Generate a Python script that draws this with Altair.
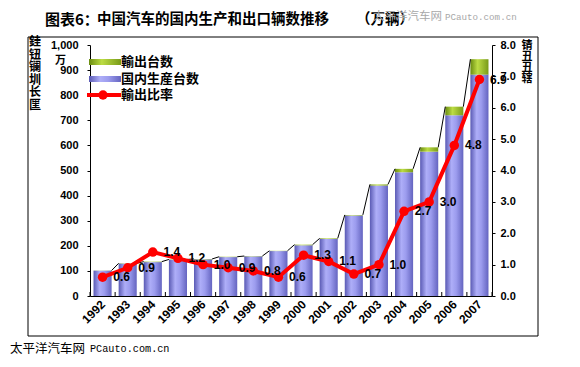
import altair as alt
import pandas as pd

years = ["1992", "1993", "1994", "1995", "1996", "1997", "1998", "1999",
         "2000", "2001", "2002", "2003", "2004", "2005", "2006", "2007"]
domestic = [101, 129, 135, 144, 146, 155, 158, 179, 202, 227, 321, 440, 493, 575, 720, 882]
export = [0.6, 1.2, 1.9, 1.7, 1.5, 1.4, 1.3, 1.0, 2.6, 2.6, 2.2, 4.5, 13.6, 17.3, 34.3, 61.4]
ratio = [0.6, 0.9, 1.4, 1.2, 1.0, 0.9, 0.8, 0.6, 1.3, 1.1, 0.7, 1.0, 2.7, 3.0, 4.8, 6.9]

left_ticks = [0, 100, 200, 300, 400, 500, 600, 700, 800, 900, 1000]
right_ticks = [0, 1, 2, 3, 4, 5, 6, 7, 8]

title_a = "图表6："
title_b = "中国汽车的国内生产和出口辆数推移"
title_c = "（万辆）"
wm_cn = "太平洋汽车网"
wm_en = "PCauto.com.cn"
unit = "万"
left_title = "銈\n钮\n镧\n圳\n长\n匩"
right_title = "锖\n丑\n丑\n辖"
legend_labels = ["輸出台数", "国内生産台数", "輸出比率"]

CJK = "Noto Sans CJK SC"
NUM = "Liberation Sans"
MONO = "Liberation Mono"

df = pd.DataFrame({"year": years, "idx": list(range(len(years))),
                   "domestic": domestic, "export": export, "ratio": ratio})
df["total"] = df["domestic"] + df["export"]
df["base"] = 0
half = 0.36
df["xl"] = df["idx"] - half
df["xr"] = df["idx"] + half

seg = pd.DataFrame({"xl": df["xr"].values[:-1], "xr": df["xl"].values[1:],
                    "domestic": df["total"].values[:-1], "total": df["total"].values[1:]})
bounds = pd.DataFrame({"xl": [i - 0.5 for i in range(len(years) + 1)]})
one = pd.DataFrame({"k": [0]})

xscale = alt.Scale(domain=[-0.5, len(years) - 0.5], nice=False, zero=False)
yscale = alt.Scale(domain=[0, 1000], nice=False)
rscale = alt.Scale(domain=[0, 8], nice=False)

label_arr = "[" + ",".join("'%s'" % y for y in years) + "]"

xaxis = alt.Axis(
    values=list(range(len(years))), labelExpr=label_arr + "[datum.value]",
    ticks=False, grid=False, labelAngle=-45, labelAlign="right",
    labelBaseline="middle", labelPadding=6, labelFont=NUM, labelFontSize=12,
    labelFontWeight="bold", labelColor="black", domainColor="black",
    labelOverlap=False, labelBound=False, title=None)
yaxis = alt.Axis(
    values=left_ticks, format=",.0f", grid=False, tickSize=3, tickColor="black",
    domainColor="black", labelPadding=9, labelFont=NUM, labelFontSize=11,
    labelFontWeight="bold", labelColor="black", labelOverlap=False, title=None)
raxis = alt.Axis(
    orient="right", values=right_ticks, format=".1f", grid=False, tickSize=3,
    tickColor="black", domainColor="black", labelPadding=5, labelFont=NUM,
    labelFontSize=11, labelFontWeight="bold", labelColor="black",
    labelOverlap=False, title=None)

blue_grad = alt.Gradient(gradient="linear", x1=0, x2=1, y1=0, y2=0, stops=[
    alt.GradientStop(offset=0, color="#5A5AB4"),
    alt.GradientStop(offset=0.35, color="#AEAEF8"),
    alt.GradientStop(offset=0.6, color="#9C9CEE"),
    alt.GradientStop(offset=1, color="#6464C0")])
green_grad = alt.Gradient(gradient="linear", x1=0, x2=1, y1=0, y2=0, stops=[
    alt.GradientStop(offset=0, color="#6A8C10"),
    alt.GradientStop(offset=0.4, color="#BCDC44"),
    alt.GradientStop(offset=1, color="#789A18")])

X = alt.X("xl:Q", scale=xscale, axis=xaxis)
Y = alt.Y("domestic:Q", scale=yscale, axis=yaxis)

dom_bars = alt.Chart(df).mark_rect(fill=blue_grad).encode(
    x=X, x2="xr", y=Y, y2="base")

exp_bars = alt.Chart(df).mark_rect(fill=green_grad).encode(
    x=X, x2="xr", y=Y, y2="total")

series_lines = alt.Chart(seg).mark_rule(color="black", strokeWidth=1).encode(
    x=X, x2="xr", y=Y, y2="total")

xticks = alt.Chart(bounds).mark_rule(color="black").encode(
    x=X, y=alt.value(251), y2=alt.value(247))

frame = alt.Chart(one).mark_rect(fill=None, stroke="black", strokeWidth=1).encode(
    x=alt.value(-62), x2=alt.value(448), y=alt.value(-8), y2=alt.value(291))


def txt(s, x, y, size, font=CJK, weight="bold", color="black", align="left",
        baseline="middle", **kw):
    return alt.Chart(one).mark_text(font=font, fontSize=size, fontWeight=weight,
                                    color=color, align=align, baseline=baseline,
                                    **kw).encode(
        x=alt.value(x), y=alt.value(y), text=alt.value(s))


decor = [
    txt(title_a, -45, -25, 15),
    txt(title_b, 7, -25, 14.5),
    txt(title_c, 266, -25, 14.5),
    txt(wm_cn, 283, -28, 11.5, weight="normal", color="#A8A8A8"),
    txt(wm_en, 355, -28, 9.2, font=MONO, weight="normal", color="#A8A8A8"),
    txt(wm_cn, -80, 304, 12.5, weight="normal"),
    txt(wm_en, 0, 304, 10.2, font=MONO, weight="normal"),
    txt(unit, -35, 16, 11),
    txt(left_title, -55, -8, 12, align="center", baseline="top",
        lineBreak="\n", lineHeight=12.6),
    txt(right_title, 437, -5, 11, align="center", baseline="top",
        lineBreak="\n", lineHeight=11),
    txt(legend_labels[0], 31, 17, 13),
    txt(legend_labels[1], 31, 34, 13),
    txt(legend_labels[2], 31, 50, 13),
]

leg_green = alt.Chart(one).mark_rect(fill=green_grad).encode(
    x=alt.value(-1), x2=alt.value(31), y=alt.value(14), y2=alt.value(20))
leg_blue = alt.Chart(one).mark_rect(fill=blue_grad).encode(
    x=alt.value(-1), x2=alt.value(31), y=alt.value(31), y2=alt.value(37))
leg_line = alt.Chart(one).mark_rule(color="#FF0000", strokeWidth=4).encode(
    x=alt.value(-3), x2=alt.value(31), y=alt.value(50))
leg_pt = alt.Chart(one).mark_circle(color="#FF0000", size=90, opacity=1).encode(
    x=alt.value(13), y=alt.value(50))

bar_group = alt.layer(dom_bars, exp_bars, series_lines, xticks, frame,
                      leg_green, leg_blue, leg_line, leg_pt, *decor)

XR = alt.X("idx:Q", scale=xscale, axis=xaxis)
YR = alt.Y("ratio:Q", scale=rscale, axis=raxis)

line = alt.Chart(df).mark_line(color="#FF0000", strokeWidth=4).encode(x=XR, y=YR)
points = alt.Chart(df).mark_circle(color="#FF0000", size=90, opacity=1).encode(
    x=XR, y=YR)
labels = alt.Chart(df).mark_text(font=NUM, fontSize=12, fontWeight="bold",
                                 color="black", dx=19, baseline="middle").encode(
    x=XR, y=YR, text=alt.Text("ratio:Q", format=".1f"))

line_group = alt.layer(line, points, labels)

chart = alt.layer(bar_group, line_group).resolve_scale(y="independent").properties(
    width=402, height=251,
    padding={"left": 82, "top": 37, "right": 80, "bottom": 63},
    autosize=alt.AutoSizeParams(type="none"),
    background="white",
).configure_view(stroke=None)

chart.save("out.html", embed_options={"renderer": "svg", "actions": False})
